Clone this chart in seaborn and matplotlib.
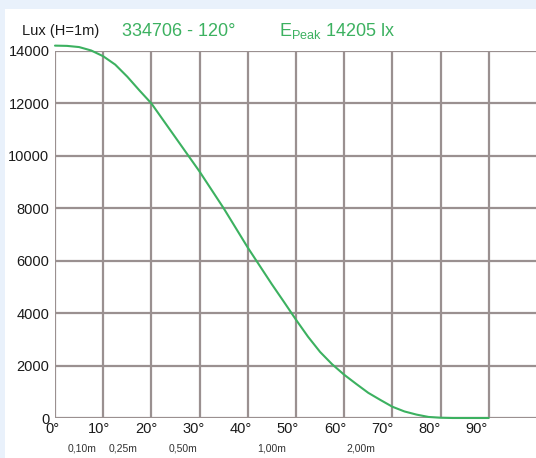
import numpy as np
import pandas as pd
import matplotlib
matplotlib.use("Agg")
import matplotlib.pyplot as plt
import matplotlib.transforms as mtransforms
from matplotlib.patches import Rectangle
import seaborn as sns

# ---- data ----
angles = [0, 2.5, 5, 7.5, 10, 12.5, 15, 17.5, 20, 22.5, 25, 27.5, 30, 32.5, 35, 37.5,
          40, 42.5, 45, 47.5, 50, 52.5, 55, 57.5, 60, 62.5, 65, 67.5, 70, 72.5, 75,
          77.5, 80, 82.5, 85, 87.5, 90]
lux = [14205, 14195, 14150, 14020, 13800, 13480, 13020, 12500, 12000, 11350, 10700,
       10050, 9400, 8700, 8000, 7250, 6500, 5800, 5100, 4430, 3750, 3100, 2520, 2050,
       1650, 1300, 960, 690, 430, 250, 130, 40, 10, 0, 0, 0, 0]
angle_ticks = [0, 10, 20, 30, 40, 50, 60, 70, 80, 90]
angle_labels = ["0°", "10°", "20°", "30°", "40°", "50°", "60°", "70°", "80°", "90°"]
dist_values = [0.10, 0.25, 0.50, 1.00, 2.00]
dist_labels = ["0,10m", "0,25m", "0,50m", "1,00m", "2,00m"]
lux_ticks = [0, 2000, 4000, 6000, 8000, 10000, 12000, 14000]
title_left = "Lux (H=1m)"
title_mid = "334706 - 120°"
title_peak = r"E$_{\mathregular{Peak}}$ 14205 lx"

sns.set_style("white")
plt.rcParams["font.family"] = ["Liberation Sans", "DejaVu Sans"]

GREEN = "#3cb160"
GRID = "#9a9090"

fig = plt.figure(figsize=(5.36, 4.58), dpi=100)
fig.patch.set_facecolor("#e9f1fb")
fig.patches.append(Rectangle((5 / 536, 0), 1, 1 - 9 / 458, transform=fig.transFigure,
                             facecolor="white", edgecolor="none", zorder=-10))

ax = fig.add_axes([55 / 536, 1 - 418 / 458, (536 - 55) / 536, (418 - 51) / 458])
ax.set_facecolor("none")

df = pd.DataFrame({"angle": angles, "lux": lux})
sns.lineplot(data=df, x="angle", y="lux", ax=ax, color=GREEN, linewidth=1.5,
             clip_on=False, zorder=5)

ax.set_xlim(0, 99.8)
ax.set_ylim(0, 14000)
ax.set_xlabel("")
ax.set_ylabel("")

for s in ax.spines.values():
    s.set_visible(False)

# grid
for a in angle_ticks:
    ax.axvline(a, color=GRID, lw=1.6, zorder=1)
for v in lux_ticks:
    ax.axhline(v, color=GRID, lw=1.6, zorder=1)

# y ticks
ax.set_yticks(lux_ticks)
ax.set_yticklabels([str(v) for v in lux_ticks])
ax.tick_params(axis="y", length=3, width=1.2, color=GRID, pad=1,
               labelsize=10.5, labelcolor="#1a1a1a")

# x: distance ticks as real ticks
dist_pos = list(np.degrees(np.arctan(dist_values)))
ax.set_xticks(dist_pos)
ax.set_xticklabels(dist_labels)
ax.tick_params(axis="x", direction="out", length=11.5, width=1.0, color="#a8a0a0",
               pad=7, labelsize=7.5, labelcolor="#333333")

# x: angle labels
for a, lab in zip(angle_ticks, angle_labels):
    off = mtransforms.ScaledTranslation(-(3 + 0.1 * a) / 100, 0, fig.dpi_scale_trans)
    tr = mtransforms.blended_transform_factory(ax.transData, ax.transAxes) + off
    ax.text(a, -0.012, lab, transform=tr, ha="center", va="top",
            fontsize=10.5, color="#1a1a1a")

# titles
fig.text(22 / 536, 1 - 31 / 458, title_left, fontsize=10.5, color="#1a1a1a",
         va="center", ha="left")
fig.text(122 / 536, 1 - 31 / 458, title_mid, fontsize=13, color=GREEN,
         va="center", ha="left")
fig.text(279 / 536, 1 - 31 / 458, title_peak, fontsize=13, color=GREEN,
         va="center", ha="left")

fig.savefig("out.png", dpi=100, facecolor=fig.get_facecolor())
